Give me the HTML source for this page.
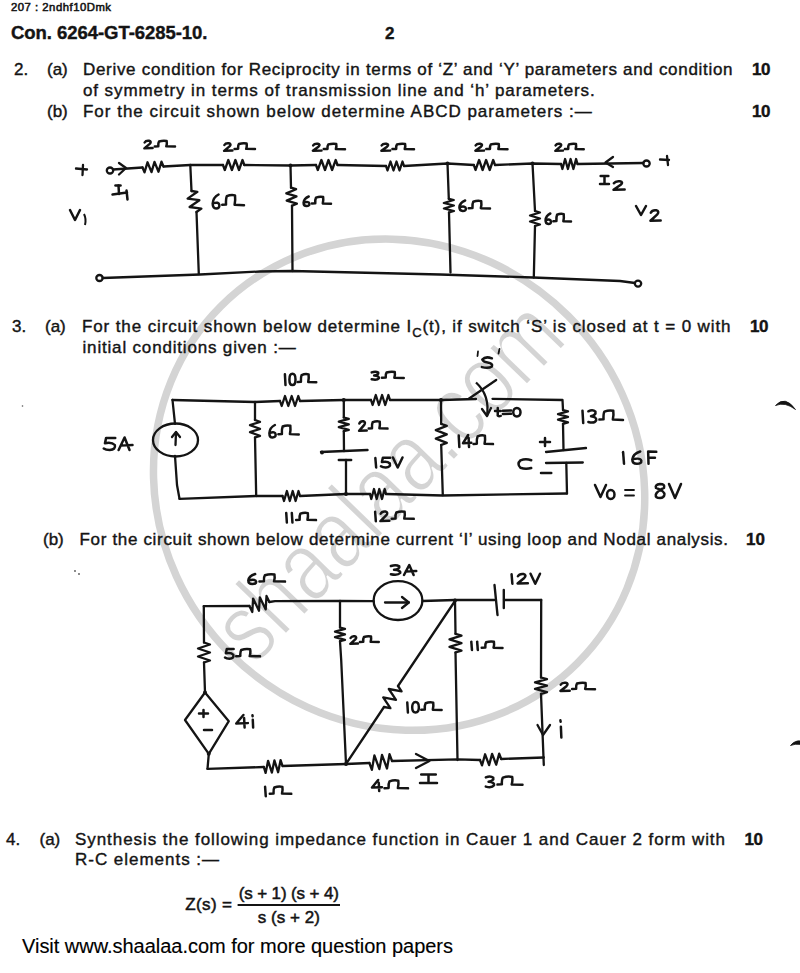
<!DOCTYPE html><html><head><meta charset="utf-8"><style>html,body{margin:0;padding:0;background:#fff;width:800px;height:973px;overflow:hidden;position:relative}</style></head><body><svg width="800" height="973" viewBox="0 0 800 973" style="position:absolute;left:0;top:0">
<ellipse cx="399.1" cy="484.7" rx="252.2" ry="238.9" transform="rotate(45 399.1 484.7)" fill="none" stroke="#d4d4d4" stroke-width="7.5"/>
<text x="0" y="0" font-family="Liberation Sans" font-size="100" fill="#d4d4d4" stroke="#fff" stroke-width="2.2" text-anchor="middle" transform="translate(412,504) rotate(-46) scale(0.8,1)">shaalaa.com</text>
<text x="11" y="11.4" font-family="Liberation Sans" font-size="11.3" font-weight="400" fill="#141414" stroke="#141414" stroke-width="0.55" textLength="100.0" lengthAdjust="spacing" >207 : 2ndhf10Dmk</text>
<text x="11" y="39" font-family="Liberation Sans" font-size="18.5" font-weight="700" fill="#141414" stroke="#141414" stroke-width="0.4" textLength="196.5" lengthAdjust="spacing" >Con. 6264-GT-6285-10.</text>
<text x="385" y="38.5" font-family="Liberation Sans" font-size="17" font-weight="700" fill="#141414" stroke="#141414" stroke-width="0.4" >2</text>
<text x="14" y="75" font-family="Liberation Sans" font-size="17" font-weight="400" fill="#141414" stroke="#141414" stroke-width="0.4" >2.</text>
<text x="47" y="75" font-family="Liberation Sans" font-size="17" font-weight="400" fill="#141414" stroke="#141414" stroke-width="0.4" >(a)</text>
<text x="83" y="75" font-family="Liberation Sans" font-size="17" font-weight="400" fill="#141414" stroke="#141414" stroke-width="0.4" textLength="649.5" lengthAdjust="spacing" >Derive condition for Reciprocity in terms of ‘Z’ and ‘Y’ parameters and condition</text>
<text x="752" y="75" font-family="Liberation Sans" font-size="17" font-weight="700" fill="#141414" stroke="#141414" stroke-width="0.4" textLength="18.5" lengthAdjust="spacing" >10</text>
<text x="83" y="95.5" font-family="Liberation Sans" font-size="17" font-weight="400" fill="#141414" stroke="#141414" stroke-width="0.4" textLength="511.7" lengthAdjust="spacing" >of symmetry in terms of transmission line and ‘h’ parameters.</text>
<text x="47" y="116.5" font-family="Liberation Sans" font-size="17" font-weight="400" fill="#141414" stroke="#141414" stroke-width="0.4" >(b)</text>
<text x="83" y="116.5" font-family="Liberation Sans" font-size="17" font-weight="400" fill="#141414" stroke="#141414" stroke-width="0.4" textLength="508.7" lengthAdjust="spacing" >For the circuit shown below determine ABCD parameters :—</text>
<text x="752" y="116.5" font-family="Liberation Sans" font-size="17" font-weight="700" fill="#141414" stroke="#141414" stroke-width="0.4" textLength="18.5" lengthAdjust="spacing" >10</text>
<text x="12" y="332" font-family="Liberation Sans" font-size="17" font-weight="400" fill="#141414" stroke="#141414" stroke-width="0.4" >3.</text>
<text x="45" y="332" font-family="Liberation Sans" font-size="17" font-weight="400" fill="#141414" stroke="#141414" stroke-width="0.4" >(a)</text>
<text x="82" y="332" font-family="Liberation Sans" font-size="17" fill="#141414" stroke="#141414" stroke-width="0.4" textLength="648.5" lengthAdjust="spacing">For the circuit shown below determine I<tspan font-size="13" dy="5">C</tspan><tspan dy="-5">(t), if switch ‘S’ is closed at t = 0 with</tspan></text>
<text x="750" y="331.5" font-family="Liberation Sans" font-size="17" font-weight="700" fill="#141414" stroke="#141414" stroke-width="0.4" textLength="18.5" lengthAdjust="spacing" >10</text>
<text x="82.5" y="353.4" font-family="Liberation Sans" font-size="17" font-weight="400" fill="#141414" stroke="#141414" stroke-width="0.4" textLength="213.2" lengthAdjust="spacing" >initial conditions given :—</text>
<text x="43" y="544.7" font-family="Liberation Sans" font-size="17" font-weight="400" fill="#141414" stroke="#141414" stroke-width="0.4" >(b)</text>
<text x="79.5" y="544.7" font-family="Liberation Sans" font-size="17" font-weight="400" fill="#141414" stroke="#141414" stroke-width="0.4" textLength="648.5" lengthAdjust="spacing" >For the circuit shown below determine current ‘I’ using loop and Nodal analysis.</text>
<text x="746" y="544.7" font-family="Liberation Sans" font-size="17" font-weight="700" fill="#141414" stroke="#141414" stroke-width="0.4" textLength="19.0" lengthAdjust="spacing" >10</text>
<text x="6" y="845" font-family="Liberation Sans" font-size="17" font-weight="400" fill="#141414" stroke="#141414" stroke-width="0.4" >4.</text>
<text x="39.5" y="845" font-family="Liberation Sans" font-size="17" font-weight="400" fill="#141414" stroke="#141414" stroke-width="0.4" >(a)</text>
<text x="75" y="845" font-family="Liberation Sans" font-size="17" font-weight="400" fill="#141414" stroke="#141414" stroke-width="0.4" textLength="650.0" lengthAdjust="spacing" >Synthesis the following impedance function in Cauer 1 and Cauer 2 form with</text>
<text x="744.5" y="845" font-family="Liberation Sans" font-size="17" font-weight="700" fill="#141414" stroke="#141414" stroke-width="0.4" textLength="18.5" lengthAdjust="spacing" >10</text>
<text x="75" y="864.5" font-family="Liberation Sans" font-size="17" font-weight="400" fill="#141414" stroke="#141414" stroke-width="0.4" textLength="144.0" lengthAdjust="spacing" >R-C elements :—</text>
<text x="185.3" y="910" font-family="Liberation Sans" font-size="17" font-weight="400" fill="#141414" stroke="#141414" stroke-width="0.5" textLength="46.7" lengthAdjust="spacing" >Z(s) =</text>
<text x="238.7" y="899" font-family="Liberation Sans" font-size="17" font-weight="400" fill="#141414" stroke="#141414" stroke-width="0.5" textLength="100.3" lengthAdjust="spacing" >(s + 1) (s + 4)</text>
<line x1="237.6" y1="905" x2="340" y2="905" stroke="#141414" stroke-width="1.8"/>
<text x="257.8" y="923" font-family="Liberation Sans" font-size="17" font-weight="400" fill="#141414" stroke="#141414" stroke-width="0.5" textLength="62.0" lengthAdjust="spacing" >s (s + 2)</text>
<text x="22" y="952.8" font-family="Liberation Sans" font-size="20" font-weight="400" fill="#000" stroke="#000" stroke-width="0.15" textLength="431.0" lengthAdjust="spacing" >Visit www.shaalaa.com for more question papers</text>
<ellipse cx="110" cy="170.5" rx="3.2" ry="3" fill="none" stroke="#141414" stroke-width="2.3"/>
<path d="M113.0,169.5 L142.5,167.5" fill="none" stroke="#141414" stroke-width="2.3" stroke-linecap="round" stroke-linejoin="round"/>
<path d="M119.0,163.0 L126.0,168.0 L119.0,174.5" fill="none" stroke="#141414" stroke-width="2.3" stroke-linecap="round" stroke-linejoin="round"/>
<path d="M142.5,167.5 L144.5,172.4 L147.5,162.3 L151.5,172.1 L154.5,161.9 L158.5,171.7 L161.5,161.6 L163.5,166.5" fill="none" stroke="#141414" stroke-width="2.3" stroke-linecap="round" stroke-linejoin="round"/>
<path d="M163.5,166.5 L190.3,165.0 L223.0,165.0" fill="none" stroke="#141414" stroke-width="2.3" stroke-linecap="round" stroke-linejoin="round"/>
<path d="M223.0,165.0 L224.8,170.0 L228.3,160.0 L231.9,170.0 L235.4,160.0 L239.0,170.0 L242.5,160.0 L244.3,165.0" fill="none" stroke="#141414" stroke-width="2.3" stroke-linecap="round" stroke-linejoin="round"/>
<path d="M244.3,165.0 L290.5,165.5 L316.0,165.0" fill="none" stroke="#141414" stroke-width="2.3" stroke-linecap="round" stroke-linejoin="round"/>
<path d="M316.0,165.0 L317.8,170.0 L321.4,160.0 L325.0,170.0 L328.5,160.0 L332.1,170.0 L335.7,160.0 L337.5,165.0" fill="none" stroke="#141414" stroke-width="2.3" stroke-linecap="round" stroke-linejoin="round"/>
<path d="M337.5,165.0 L386.0,166.0" fill="none" stroke="#141414" stroke-width="2.3" stroke-linecap="round" stroke-linejoin="round"/>
<path d="M386.0,166.0 L387.5,170.5 L390.5,161.5 L393.5,170.5 L396.5,161.5 L399.5,170.5 L402.5,161.5 L404.0,166.0" fill="none" stroke="#141414" stroke-width="2.3" stroke-linecap="round" stroke-linejoin="round"/>
<path d="M404.0,166.0 L447.5,163.5 L473.8,165.0" fill="none" stroke="#141414" stroke-width="2.3" stroke-linecap="round" stroke-linejoin="round"/>
<path d="M473.8,165.0 L475.5,170.0 L479.1,160.0 L482.6,170.0 L486.1,160.0 L489.7,170.0 L493.2,160.0 L495.0,165.0" fill="none" stroke="#141414" stroke-width="2.3" stroke-linecap="round" stroke-linejoin="round"/>
<path d="M495.0,165.0 L532.5,163.5 L561.0,164.0" fill="none" stroke="#141414" stroke-width="2.3" stroke-linecap="round" stroke-linejoin="round"/>
<path d="M561.0,164.0 L562.4,169.0 L565.1,159.0 L567.9,169.0 L570.6,159.0 L573.4,169.0 L576.1,159.0 L577.5,164.0" fill="none" stroke="#141414" stroke-width="2.3" stroke-linecap="round" stroke-linejoin="round"/>
<path d="M577.5,164.0 L643.5,163.0" fill="none" stroke="#141414" stroke-width="2.3" stroke-linecap="round" stroke-linejoin="round"/>
<path d="M613.0,157.0 L605.5,162.5 L613.0,167.0" fill="none" stroke="#141414" stroke-width="2.3" stroke-linecap="round" stroke-linejoin="round"/>
<ellipse cx="646.5" cy="163.5" rx="3.2" ry="3" fill="none" stroke="#141414" stroke-width="2.3"/>
<path d="M190.3,165.0 L191.5,191.0" fill="none" stroke="#141414" stroke-width="2.3" stroke-linecap="round" stroke-linejoin="round"/>
<path d="M191.5,191.0 L197.4,191.8 L187.6,198.6 L199.4,200.2 L189.6,207.0 L201.4,208.6 L196.5,212.0" fill="none" stroke="#141414" stroke-width="2.3" stroke-linecap="round" stroke-linejoin="round"/>
<path d="M196.5,212.0 L198.8,274.0" fill="none" stroke="#141414" stroke-width="2.3" stroke-linecap="round" stroke-linejoin="round"/>
<path d="M290.5,165.5 L291.0,187.7" fill="none" stroke="#141414" stroke-width="2.3" stroke-linecap="round" stroke-linejoin="round"/>
<path d="M291.0,187.7 L296.1,189.2 L286.3,193.4 L296.5,196.4 L286.7,200.6 L296.9,203.6 L292.0,205.7" fill="none" stroke="#141414" stroke-width="2.3" stroke-linecap="round" stroke-linejoin="round"/>
<path d="M292.0,205.7 L292.5,271.0" fill="none" stroke="#141414" stroke-width="2.3" stroke-linecap="round" stroke-linejoin="round"/>
<path d="M447.5,163.5 L448.8,198.8" fill="none" stroke="#141414" stroke-width="2.3" stroke-linecap="round" stroke-linejoin="round"/>
<path d="M448.8,198.8 L453.8,200.0 L443.8,203.0 L453.9,205.5 L443.9,208.5 L454.0,211.0 L449.0,212.5" fill="none" stroke="#141414" stroke-width="2.3" stroke-linecap="round" stroke-linejoin="round"/>
<path d="M449.0,212.5 L450.5,272.5" fill="none" stroke="#141414" stroke-width="2.3" stroke-linecap="round" stroke-linejoin="round"/>
<path d="M532.5,163.5 L535.0,211.0" fill="none" stroke="#141414" stroke-width="2.3" stroke-linecap="round" stroke-linejoin="round"/>
<path d="M535.0,211.0 L540.0,212.5 L530.0,215.5 L540.0,218.5 L530.0,221.5 L540.0,224.5 L535.0,226.0" fill="none" stroke="#141414" stroke-width="2.3" stroke-linecap="round" stroke-linejoin="round"/>
<path d="M535.0,226.0 L533.8,277.5" fill="none" stroke="#141414" stroke-width="2.3" stroke-linecap="round" stroke-linejoin="round"/>
<ellipse cx="99.5" cy="278" rx="3.2" ry="3" fill="none" stroke="#141414" stroke-width="2.3"/>
<path d="M102.5,278.0 L200.0,274.5 L260.0,271.5 L292.0,271.0 L440.0,274.5 L533.0,277.5 L620.0,281.0 L635.0,283.0" fill="none" stroke="#141414" stroke-width="2.3" stroke-linecap="round" stroke-linejoin="round"/>
<ellipse cx="638" cy="283.6" rx="3.2" ry="3" fill="none" stroke="#141414" stroke-width="2.3"/>
<path d="M76.0,168.5 L87.0,169.5" fill="none" stroke="#141414" stroke-width="2.3" stroke-linecap="round" stroke-linejoin="round"/>
<path d="M83.0,165.0 L82.5,175.0" fill="none" stroke="#141414" stroke-width="2.3" stroke-linecap="round" stroke-linejoin="round"/>
<path d="M660.0,159.5 L669.0,160.0" fill="none" stroke="#141414" stroke-width="2.3" stroke-linecap="round" stroke-linejoin="round"/>
<path d="M667.0,156.0 L668.0,165.0" fill="none" stroke="#141414" stroke-width="2.3" stroke-linecap="round" stroke-linejoin="round"/>
<g fill="none" stroke="#141414" stroke-width="2.5" stroke-linecap="round" stroke-linejoin="round"><path transform="translate(144.00,140.50) scale(1.2653,0.8000)" d="M0.5,2.5 Q1.5,-0.3 4,0.3 Q6.3,1.2 4.5,4.2 L0.3,9.8 L6.8,9.5" vector-effect="non-scaling-stroke" /><path transform="translate(154.76,140.50) scale(1.2653,0.8000)" d="M0,7.4 L2.8,7.2 Q2.6,3 3.4,1.2 Q6.5,-0.2 9.4,0.6 Q9.8,4 9.1,7.3 L16,7.6" vector-effect="non-scaling-stroke" /></g>
<g fill="none" stroke="#141414" stroke-width="2.5" stroke-linecap="round" stroke-linejoin="round"><path transform="translate(223.75,143.00) scale(1.2755,0.8000)" d="M0.5,2.5 Q1.5,-0.3 4,0.3 Q6.3,1.2 4.5,4.2 L0.3,9.8 L6.8,9.5" vector-effect="non-scaling-stroke" /><path transform="translate(234.59,143.00) scale(1.2755,0.8000)" d="M0,7.4 L2.8,7.2 Q2.6,3 3.4,1.2 Q6.5,-0.2 9.4,0.6 Q9.8,4 9.1,7.3 L16,7.6" vector-effect="non-scaling-stroke" /></g>
<g fill="none" stroke="#141414" stroke-width="2.5" stroke-linecap="round" stroke-linejoin="round"><path transform="translate(312.50,143.50) scale(1.3265,0.7500)" d="M0.5,2.5 Q1.5,-0.3 4,0.3 Q6.3,1.2 4.5,4.2 L0.3,9.8 L6.8,9.5" vector-effect="non-scaling-stroke" /><path transform="translate(323.78,143.50) scale(1.3265,0.7500)" d="M0,7.4 L2.8,7.2 Q2.6,3 3.4,1.2 Q6.5,-0.2 9.4,0.6 Q9.8,4 9.1,7.3 L16,7.6" vector-effect="non-scaling-stroke" /></g>
<g fill="none" stroke="#141414" stroke-width="2.5" stroke-linecap="round" stroke-linejoin="round"><path transform="translate(381.00,143.50) scale(1.3469,0.7500)" d="M0.5,2.5 Q1.5,-0.3 4,0.3 Q6.3,1.2 4.5,4.2 L0.3,9.8 L6.8,9.5" vector-effect="non-scaling-stroke" /><path transform="translate(392.45,143.50) scale(1.3469,0.7500)" d="M0,7.4 L2.8,7.2 Q2.6,3 3.4,1.2 Q6.5,-0.2 9.4,0.6 Q9.8,4 9.1,7.3 L16,7.6" vector-effect="non-scaling-stroke" /></g>
<g fill="none" stroke="#141414" stroke-width="2.5" stroke-linecap="round" stroke-linejoin="round"><path transform="translate(475.00,143.50) scale(1.3265,0.7500)" d="M0.5,2.5 Q1.5,-0.3 4,0.3 Q6.3,1.2 4.5,4.2 L0.3,9.8 L6.8,9.5" vector-effect="non-scaling-stroke" /><path transform="translate(486.28,143.50) scale(1.3265,0.7500)" d="M0,7.4 L2.8,7.2 Q2.6,3 3.4,1.2 Q6.5,-0.2 9.4,0.6 Q9.8,4 9.1,7.3 L16,7.6" vector-effect="non-scaling-stroke" /></g>
<g fill="none" stroke="#141414" stroke-width="2.5" stroke-linecap="round" stroke-linejoin="round"><path transform="translate(555.00,143.50) scale(1.1735,0.7500)" d="M0.5,2.5 Q1.5,-0.3 4,0.3 Q6.3,1.2 4.5,4.2 L0.3,9.8 L6.8,9.5" vector-effect="non-scaling-stroke" /><path transform="translate(564.97,143.50) scale(1.1735,0.7500)" d="M0,7.4 L2.8,7.2 Q2.6,3 3.4,1.2 Q6.5,-0.2 9.4,0.6 Q9.8,4 9.1,7.3 L16,7.6" vector-effect="non-scaling-stroke" /></g>
<g fill="none" stroke="#141414" stroke-width="2.5" stroke-linecap="round" stroke-linejoin="round"><path transform="translate(212.00,194.50) scale(1.3617,1.4000)" d="M4.8,0 Q0.8,2 0.5,6.5 Q0.5,10 3,10 Q5.6,10 5.4,7.5 Q5,5 1,6.2" vector-effect="non-scaling-stroke" /><path transform="translate(222.21,194.50) scale(1.3617,1.4000)" d="M0,7.4 L2.8,7.2 Q2.6,3 3.4,1.2 Q6.5,-0.2 9.4,0.6 Q9.8,4 9.1,7.3 L16,7.6" vector-effect="non-scaling-stroke" /></g>
<g fill="none" stroke="#141414" stroke-width="2.5" stroke-linecap="round" stroke-linejoin="round"><path transform="translate(303.00,196.50) scale(1.1915,0.9500)" d="M4.8,0 Q0.8,2 0.5,6.5 Q0.5,10 3,10 Q5.6,10 5.4,7.5 Q5,5 1,6.2" vector-effect="non-scaling-stroke" /><path transform="translate(311.94,196.50) scale(1.1915,0.9500)" d="M0,7.4 L2.8,7.2 Q2.6,3 3.4,1.2 Q6.5,-0.2 9.4,0.6 Q9.8,4 9.1,7.3 L16,7.6" vector-effect="non-scaling-stroke" /></g>
<g fill="none" stroke="#141414" stroke-width="2.5" stroke-linecap="round" stroke-linejoin="round"><path transform="translate(458.75,200.50) scale(1.3298,1.0500)" d="M4.8,0 Q0.8,2 0.5,6.5 Q0.5,10 3,10 Q5.6,10 5.4,7.5 Q5,5 1,6.2" vector-effect="non-scaling-stroke" /><path transform="translate(468.72,200.50) scale(1.3298,1.0500)" d="M0,7.4 L2.8,7.2 Q2.6,3 3.4,1.2 Q6.5,-0.2 9.4,0.6 Q9.8,4 9.1,7.3 L16,7.6" vector-effect="non-scaling-stroke" /></g>
<g fill="none" stroke="#141414" stroke-width="2.5" stroke-linecap="round" stroke-linejoin="round"><path transform="translate(545.00,213.50) scale(1.1064,1.0500)" d="M4.8,0 Q0.8,2 0.5,6.5 Q0.5,10 3,10 Q5.6,10 5.4,7.5 Q5,5 1,6.2" vector-effect="non-scaling-stroke" /><path transform="translate(553.30,213.50) scale(1.1064,1.0500)" d="M0,7.4 L2.8,7.2 Q2.6,3 3.4,1.2 Q6.5,-0.2 9.4,0.6 Q9.8,4 9.1,7.3 L16,7.6" vector-effect="non-scaling-stroke" /></g>
<path d="M115.5,185.5 L120.5,185.5" fill="none" stroke="#141414" stroke-width="2.6" stroke-linecap="round" stroke-linejoin="round"/>
<path d="M118.5,185.5 L119.0,194.0" fill="none" stroke="#141414" stroke-width="2.5" stroke-linecap="round" stroke-linejoin="round"/>
<path d="M112.5,194.5 L127.0,192.5" fill="none" stroke="#141414" stroke-width="2.5" stroke-linecap="round" stroke-linejoin="round"/>
<path d="M126.5,190.5 L127.5,199.5" fill="none" stroke="#141414" stroke-width="2.5" stroke-linecap="round" stroke-linejoin="round"/>
<g fill="none" stroke="#141414" stroke-width="2.5" stroke-linecap="round" stroke-linejoin="round"><path transform="translate(70.00,210.00) scale(1.6667,1.0000)" d="M0,0 L3,10 L6,0" vector-effect="non-scaling-stroke" /></g>
<path d="M84,214 Q86.5,219 85,225" fill="none" stroke="#141414" stroke-width="2"/>
<g fill="none" stroke="#141414" stroke-width="2.5" stroke-linecap="round" stroke-linejoin="round"><path transform="translate(600.00,176.00) scale(1.2857,0.8000)" d="M0.5,0 L6.5,0 M3.5,0 L3.5,10 M0,10 L7,10" vector-effect="non-scaling-stroke" /></g>
<g fill="none" stroke="#141414" stroke-width="2.5" stroke-linecap="round" stroke-linejoin="round"><path transform="translate(613.00,181.00) scale(1.7143,0.9000)" d="M0.5,2.5 Q1.5,-0.3 4,0.3 Q6.3,1.2 4.5,4.2 L0.3,9.8 L6.8,9.5" vector-effect="non-scaling-stroke" /></g>
<g fill="none" stroke="#141414" stroke-width="2.5" stroke-linecap="round" stroke-linejoin="round"><path transform="translate(636.00,206.00) scale(1.6667,0.9000)" d="M0,0 L3,10 L6,0" vector-effect="non-scaling-stroke" /></g>
<g fill="none" stroke="#141414" stroke-width="2.5" stroke-linecap="round" stroke-linejoin="round"><path transform="translate(650.00,210.00) scale(1.5714,1.1000)" d="M0.5,2.5 Q1.5,-0.3 4,0.3 Q6.3,1.2 4.5,4.2 L0.3,9.8 L6.8,9.5" vector-effect="non-scaling-stroke" /></g>
<path d="M172.5,400.0 L255.0,402.0 L280.0,401.0" fill="none" stroke="#141414" stroke-width="2.3" stroke-linecap="round" stroke-linejoin="round"/>
<path d="M280.0,401.0 L281.7,406.0 L285.0,396.0 L288.3,406.0 L291.7,396.0 L295.0,406.0 L298.3,396.0 L300.0,401.0" fill="none" stroke="#141414" stroke-width="2.3" stroke-linecap="round" stroke-linejoin="round"/>
<path d="M300.0,401.0 L343.8,400.0 L371.0,400.0" fill="none" stroke="#141414" stroke-width="2.3" stroke-linecap="round" stroke-linejoin="round"/>
<path d="M371.0,400.0 L372.6,405.0 L375.8,395.0 L378.9,405.0 L382.1,395.0 L385.2,405.0 L388.4,395.0 L390.0,400.0" fill="none" stroke="#141414" stroke-width="2.3" stroke-linecap="round" stroke-linejoin="round"/>
<path d="M390.0,400.0 L441.0,400.0 L476.0,399.0" fill="none" stroke="#141414" stroke-width="2.3" stroke-linecap="round" stroke-linejoin="round"/>
<path d="M468.8,398.8 L496.2,380.0" fill="none" stroke="#141414" stroke-width="2.3" stroke-linecap="round" stroke-linejoin="round"/>
<path d="M476,382.5 Q490,395 487,416" fill="none" stroke="#141414" stroke-width="2.3"/>
<path d="M482.0,409.0 L487.0,416.0 L491.0,408.0" fill="none" stroke="#141414" stroke-width="2.3" stroke-linecap="round" stroke-linejoin="round"/>
<path d="M492.5,398.8 L562.5,400.0 L563.0,410.0" fill="none" stroke="#141414" stroke-width="2.3" stroke-linecap="round" stroke-linejoin="round"/>
<path d="M563.0,410.0 L568.0,411.4 L558.0,414.1 L568.0,416.9 L558.0,419.6 L568.0,422.4 L563.0,423.8" fill="none" stroke="#141414" stroke-width="2.3" stroke-linecap="round" stroke-linejoin="round"/>
<path d="M563.0,423.8 L563.5,450.0" fill="none" stroke="#141414" stroke-width="2.3" stroke-linecap="round" stroke-linejoin="round"/>
<path d="M546.0,452.0 L586.0,448.0" fill="none" stroke="#141414" stroke-width="2.3" stroke-linecap="round" stroke-linejoin="round"/>
<path d="M546.0,463.0 L582.8,462.5" fill="none" stroke="#141414" stroke-width="2.3" stroke-linecap="round" stroke-linejoin="round"/>
<path d="M566.3,463.0 L567.0,493.5" fill="none" stroke="#141414" stroke-width="2.3" stroke-linecap="round" stroke-linejoin="round"/>
<path d="M179.5,498.8 L256.0,496.0 L282.5,496.0" fill="none" stroke="#141414" stroke-width="2.3" stroke-linecap="round" stroke-linejoin="round"/>
<path d="M282.5,496.0 L284.0,501.0 L286.9,491.0 L289.8,501.0 L292.7,491.0 L295.6,501.0 L298.5,491.0 L300.0,496.0" fill="none" stroke="#141414" stroke-width="2.3" stroke-linecap="round" stroke-linejoin="round"/>
<path d="M300.0,496.0 L346.0,494.0 L370.0,494.0" fill="none" stroke="#141414" stroke-width="2.3" stroke-linecap="round" stroke-linejoin="round"/>
<path d="M370.0,494.0 L371.3,499.0 L374.0,489.0 L376.7,499.0 L379.3,489.0 L382.0,499.0 L384.7,489.0 L386.0,494.0" fill="none" stroke="#141414" stroke-width="2.3" stroke-linecap="round" stroke-linejoin="round"/>
<path d="M386.0,494.0 L442.5,495.5 L567.0,493.5" fill="none" stroke="#141414" stroke-width="2.3" stroke-linecap="round" stroke-linejoin="round"/>
<path d="M172.5,400.0 L175.0,423.8" fill="none" stroke="#141414" stroke-width="2.3" stroke-linecap="round" stroke-linejoin="round"/>
<ellipse cx="175.5" cy="440" rx="22.5" ry="16.5" fill="none" stroke="#141414" stroke-width="2.3"/>
<path d="M175.0,456.0 L177.0,485.0 L179.5,498.8" fill="none" stroke="#141414" stroke-width="2.3" stroke-linecap="round" stroke-linejoin="round"/>
<path d="M175.5,445.0 L176.0,432.5" fill="none" stroke="#141414" stroke-width="2.3" stroke-linecap="round" stroke-linejoin="round"/>
<path d="M172.0,437.0 L176.0,432.0 L180.0,437.0" fill="none" stroke="#141414" stroke-width="2.3" stroke-linecap="round" stroke-linejoin="round"/>
<path d="M255.0,402.0 L255.0,420.0" fill="none" stroke="#141414" stroke-width="2.3" stroke-linecap="round" stroke-linejoin="round"/>
<path d="M255.0,420.0 L260.0,421.8 L250.0,425.2 L260.0,428.8 L250.0,432.2 L260.0,435.8 L255.0,437.5" fill="none" stroke="#141414" stroke-width="2.3" stroke-linecap="round" stroke-linejoin="round"/>
<path d="M255.0,437.5 L256.2,496.0" fill="none" stroke="#141414" stroke-width="2.3" stroke-linecap="round" stroke-linejoin="round"/>
<path d="M343.8,400.0 L343.8,417.5" fill="none" stroke="#141414" stroke-width="2.3" stroke-linecap="round" stroke-linejoin="round"/>
<path d="M343.8,417.5 L348.8,418.9 L338.8,421.6 L348.8,424.4 L338.8,427.1 L348.8,429.9 L343.8,431.2" fill="none" stroke="#141414" stroke-width="2.3" stroke-linecap="round" stroke-linejoin="round"/>
<path d="M343.8,431.2 L344.0,451.2" fill="none" stroke="#141414" stroke-width="2.3" stroke-linecap="round" stroke-linejoin="round"/>
<path d="M321.0,452.0 L367.5,450.0" fill="none" stroke="#141414" stroke-width="2.4" stroke-linecap="round" stroke-linejoin="round"/>
<path d="M338.8,460.0 L351.2,460.0" fill="none" stroke="#141414" stroke-width="2.4" stroke-linecap="round" stroke-linejoin="round"/>
<path d="M346.0,460.0 L346.0,494.0" fill="none" stroke="#141414" stroke-width="2.3" stroke-linecap="round" stroke-linejoin="round"/>
<path d="M441.0,400.0 L441.2,423.8" fill="none" stroke="#141414" stroke-width="2.3" stroke-linecap="round" stroke-linejoin="round"/>
<path d="M441.2,423.8 L446.8,425.9 L435.8,430.1 L446.8,434.4 L435.8,438.6 L446.8,442.9 L441.2,445.0" fill="none" stroke="#141414" stroke-width="2.3" stroke-linecap="round" stroke-linejoin="round"/>
<path d="M441.2,445.0 L442.8,495.2" fill="none" stroke="#141414" stroke-width="2.3" stroke-linecap="round" stroke-linejoin="round"/>
<g fill="none" stroke="#141414" stroke-width="2.5" stroke-linecap="round" stroke-linejoin="round"><path transform="translate(103.75,437.50) scale(1.9828,1.2500)" d="M5.8,0.3 L1.2,0.3 L0.6,4.6 Q4,3.4 5.6,6 Q6.2,9.6 3,10 Q1,10 0,8.8" vector-effect="non-scaling-stroke" /><path transform="translate(118.62,437.50) scale(1.9828,1.2500)" d="M0,10 L3,0 L5.5,10 M1,6.5 L7,6" vector-effect="non-scaling-stroke" /></g>
<g fill="none" stroke="#141414" stroke-width="2.5" stroke-linecap="round" stroke-linejoin="round"><path transform="translate(268.75,425.00) scale(1.2766,1.2500)" d="M4.8,0 Q0.8,2 0.5,6.5 Q0.5,10 3,10 Q5.6,10 5.4,7.5 Q5,5 1,6.2" vector-effect="non-scaling-stroke" /><path transform="translate(278.32,425.00) scale(1.2766,1.2500)" d="M0,7.4 L2.8,7.2 Q2.6,3 3.4,1.2 Q6.5,-0.2 9.4,0.6 Q9.8,4 9.1,7.3 L16,7.6" vector-effect="non-scaling-stroke" /></g>
<g fill="none" stroke="#141414" stroke-width="2.5" stroke-linecap="round" stroke-linejoin="round"><path transform="translate(283.75,373.75) scale(1.1607,1.1250)" d="M1,0.5 L1.5,10" vector-effect="non-scaling-stroke" /><path transform="translate(288.97,373.75) scale(1.1607,1.1250)" d="M3,0 C-0.5,0 -0.5,10 3,10 C6.5,10 6.5,0 3,0 Z" vector-effect="non-scaling-stroke" /><path transform="translate(297.68,373.75) scale(1.1607,1.1250)" d="M0,7.4 L2.8,7.2 Q2.6,3 3.4,1.2 Q6.5,-0.2 9.4,0.6 Q9.8,4 9.1,7.3 L16,7.6" vector-effect="non-scaling-stroke" /></g>
<g fill="none" stroke="#141414" stroke-width="2.5" stroke-linecap="round" stroke-linejoin="round"><path transform="translate(358.75,421.00) scale(1.1735,1.0000)" d="M0.5,2.5 Q1.5,-0.3 4,0.3 Q6.3,1.2 4.5,4.2 L0.3,9.8 L6.8,9.5" vector-effect="non-scaling-stroke" /><path transform="translate(368.72,421.00) scale(1.1735,1.0000)" d="M0,7.4 L2.8,7.2 Q2.6,3 3.4,1.2 Q6.5,-0.2 9.4,0.6 Q9.8,4 9.1,7.3 L16,7.6" vector-effect="non-scaling-stroke" /></g>
<g fill="none" stroke="#141414" stroke-width="2.5" stroke-linecap="round" stroke-linejoin="round"><path transform="translate(371.00,371.50) scale(1.3646,0.8500)" d="M0.5,1 Q3.5,-0.8 5.3,1.3 Q5.8,3.8 2.3,4.8 Q6.3,5.3 5.8,8 Q4.5,10.6 0.5,9.2" vector-effect="non-scaling-stroke" /><path transform="translate(381.92,371.50) scale(1.3646,0.8500)" d="M0,7.4 L2.8,7.2 Q2.6,3 3.4,1.2 Q6.5,-0.2 9.4,0.6 Q9.8,4 9.1,7.3 L16,7.6" vector-effect="non-scaling-stroke" /></g>
<g fill="none" stroke="#141414" stroke-width="2.5" stroke-linecap="round" stroke-linejoin="round"><path transform="translate(373.75,457.50) scale(1.5972,1.0000)" d="M1,0.5 L1.5,10" vector-effect="non-scaling-stroke" /><path transform="translate(380.94,457.50) scale(1.5972,1.0000)" d="M5.8,0.3 L1.2,0.3 L0.6,4.6 Q4,3.4 5.6,6 Q6.2,9.6 3,10 Q1,10 0,8.8" vector-effect="non-scaling-stroke" /><path transform="translate(392.92,457.50) scale(1.5972,1.0000)" d="M0,0 L3,10 L6,0" vector-effect="non-scaling-stroke" /></g>
<g fill="none" stroke="#141414" stroke-width="2.5" stroke-linecap="round" stroke-linejoin="round"><path transform="translate(285.00,512.50) scale(1.2400,1.0000)" d="M1,0.5 L1.5,10" vector-effect="non-scaling-stroke" /><path transform="translate(290.58,512.50) scale(1.2400,1.0000)" d="M1,0.5 L1.5,10" vector-effect="non-scaling-stroke" /><path transform="translate(296.16,512.50) scale(1.2400,1.0000)" d="M0,7.4 L2.8,7.2 Q2.6,3 3.4,1.2 Q6.5,-0.2 9.4,0.6 Q9.8,4 9.1,7.3 L16,7.6" vector-effect="non-scaling-stroke" /></g>
<g fill="none" stroke="#141414" stroke-width="2.5" stroke-linecap="round" stroke-linejoin="round"><path transform="translate(373.75,511.25) scale(1.3793,1.0000)" d="M1,0.5 L1.5,10" vector-effect="non-scaling-stroke" /><path transform="translate(379.96,511.25) scale(1.3793,1.0000)" d="M0.5,2.5 Q1.5,-0.3 4,0.3 Q6.3,1.2 4.5,4.2 L0.3,9.8 L6.8,9.5" vector-effect="non-scaling-stroke" /><path transform="translate(391.68,511.25) scale(1.3793,1.0000)" d="M0,7.4 L2.8,7.2 Q2.6,3 3.4,1.2 Q6.5,-0.2 9.4,0.6 Q9.8,4 9.1,7.3 L16,7.6" vector-effect="non-scaling-stroke" /></g>
<g fill="none" stroke="#141414" stroke-width="2.5" stroke-linecap="round" stroke-linejoin="round"><path transform="translate(481.00,357.00) scale(2.1818,1.1000)" d="M5,1.2 Q2,-1 0.6,2.4 Q1,4.5 3,5 Q5.6,6 5,8.6 Q3.5,10.6 0.4,9.2" vector-effect="non-scaling-stroke" /></g>
<path d="M478.0,351.5 L477.5,356.0" fill="none" stroke="#141414" stroke-width="1.8" stroke-linecap="round" stroke-linejoin="round"/>
<path d="M499.5,349.0 L498.5,353.5" fill="none" stroke="#141414" stroke-width="1.8" stroke-linecap="round" stroke-linejoin="round"/>
<g fill="none" stroke="#141414" stroke-width="2.5" stroke-linecap="round" stroke-linejoin="round"><path transform="translate(495.00,408.00) scale(1.3757,0.8500)" d="M2,0 L2,9 Q2.4,10 4.2,9.3 M0,3.5 L4.2,3.5" vector-effect="non-scaling-stroke" /><path transform="translate(502.84,408.00) scale(1.3757,0.8500)" d="M0,3.2 L6,3 M0,7 L6,6.8" vector-effect="non-scaling-stroke" /><path transform="translate(512.75,408.00) scale(1.3757,0.8500)" d="M3,0 C-0.5,0 -0.5,10 3,10 C6.5,10 6.5,0 3,0 Z" vector-effect="non-scaling-stroke" /></g>
<g fill="none" stroke="#141414" stroke-width="2.5" stroke-linecap="round" stroke-linejoin="round"><path transform="translate(581.00,410.00) scale(1.4737,1.3000)" d="M1,0.5 L1.5,10" vector-effect="non-scaling-stroke" /><path transform="translate(587.63,410.00) scale(1.4737,1.3000)" d="M0.5,1 Q3.5,-0.8 5.3,1.3 Q5.8,3.8 2.3,4.8 Q6.3,5.3 5.8,8 Q4.5,10.6 0.5,9.2" vector-effect="non-scaling-stroke" /><path transform="translate(599.42,410.00) scale(1.4737,1.3000)" d="M0,7.4 L2.8,7.2 Q2.6,3 3.4,1.2 Q6.5,-0.2 9.4,0.6 Q9.8,4 9.1,7.3 L16,7.6" vector-effect="non-scaling-stroke" /></g>
<g fill="none" stroke="#141414" stroke-width="2.5" stroke-linecap="round" stroke-linejoin="round"><path transform="translate(457.50,435.00) scale(1.2241,1.2000)" d="M1,0.5 L1.5,10" vector-effect="non-scaling-stroke" /><path transform="translate(463.01,435.00) scale(1.2241,1.2000)" d="M4.2,0 L0,6.8 L6.8,6.5 M4.6,2.5 L4.9,10" vector-effect="non-scaling-stroke" /><path transform="translate(473.41,435.00) scale(1.2241,1.2000)" d="M0,7.4 L2.8,7.2 Q2.6,3 3.4,1.2 Q6.5,-0.2 9.4,0.6 Q9.8,4 9.1,7.3 L16,7.6" vector-effect="non-scaling-stroke" /></g>
<g fill="none" stroke="#141414" stroke-width="2.5" stroke-linecap="round" stroke-linejoin="round"><path transform="translate(540.00,437.00) scale(1.2500,1.0000)" d="M0,5 L8,5 M4,1 L4,9" vector-effect="non-scaling-stroke" /></g>
<g fill="none" stroke="#141414" stroke-width="2.5" stroke-linecap="round" stroke-linejoin="round"><path transform="translate(518.00,459.00) scale(2.5455,1.0000)" d="M5.2,1.2 Q3,-0.6 1,1.3 Q-0.6,5 1,8.8 Q3,10.6 5.2,9" vector-effect="non-scaling-stroke" /></g>
<g fill="none" stroke="#141414" stroke-width="2.5" stroke-linecap="round" stroke-linejoin="round"><path transform="translate(541.00,470.00) scale(1.7083,0.6000)" d="M0,5 L6,5" vector-effect="non-scaling-stroke" /></g>
<g fill="none" stroke="#141414" stroke-width="2.5" stroke-linecap="round" stroke-linejoin="round"><path transform="translate(621.25,451.50) scale(1.8421,1.2250)" d="M1,0.5 L1.5,10" vector-effect="non-scaling-stroke" /><path transform="translate(631.38,451.50) scale(1.8421,1.2250)" d="M4.8,0 Q0.8,2 0.5,6.5 Q0.5,10 3,10 Q5.6,10 5.4,7.5 Q5,5 1,6.2" vector-effect="non-scaling-stroke" /><path transform="translate(647.04,451.50) scale(1.8421,1.2250)" d="M5,0.3 L0.6,0 L0.8,10 M0.7,5 L4.3,5" vector-effect="non-scaling-stroke" /></g>
<g fill="none" stroke="#141414" stroke-width="2.5" stroke-linecap="round" stroke-linejoin="round"><path transform="translate(595.00,485.00) scale(1.8333,1.2000)" d="M0,0 L3,10 L6,0" vector-effect="non-scaling-stroke" /></g>
<g fill="none" stroke="#141414" stroke-width="2.5" stroke-linecap="round" stroke-linejoin="round"><path transform="translate(606.50,490.00) scale(1.4167,0.9000)" d="M3,0 C-0.5,0 -0.5,10 3,10 C6.5,10 6.5,0 3,0 Z" vector-effect="non-scaling-stroke" /></g>
<path d="M625.0,490.0 L634.0,490.0" fill="none" stroke="#141414" stroke-width="1.8" stroke-linecap="round" stroke-linejoin="round"/>
<path d="M625.0,495.5 L634.0,495.5" fill="none" stroke="#141414" stroke-width="1.8" stroke-linecap="round" stroke-linejoin="round"/>
<g fill="none" stroke="#141414" stroke-width="2.5" stroke-linecap="round" stroke-linejoin="round"><path transform="translate(654.00,484.00) scale(2.0000,1.4000)" d="M3,0 Q0.3,0.5 1,2.8 Q5.3,5 5.2,7.6 Q5,10 3,10 Q0.6,10 0.9,7.6 Q1.4,5 5,2.7 Q5.6,0 3,0 Z" vector-effect="non-scaling-stroke" /><path transform="translate(669.00,484.00) scale(2.0000,1.4000)" d="M0,0 L3,10 L6,0" vector-effect="non-scaling-stroke" /></g>
<path d="M203.8,606.2 L249.4,606.0" fill="none" stroke="#141414" stroke-width="2.3" stroke-linecap="round" stroke-linejoin="round"/>
<path d="M249.4,606.0 L252.3,612.0 L253.1,598.6 L259.0,610.7 L259.8,597.3 L265.7,609.4 L266.5,596.0 L269.4,602.0" fill="none" stroke="#141414" stroke-width="2.3" stroke-linecap="round" stroke-linejoin="round"/>
<path d="M269.4,602.0 L275.0,601.2 L340.0,601.0 L373.8,601.2" fill="none" stroke="#141414" stroke-width="2.3" stroke-linecap="round" stroke-linejoin="round"/>
<ellipse cx="398" cy="600.6" rx="24.4" ry="19.4" fill="none" stroke="#141414" stroke-width="2.3"/>
<path d="M385.0,602.5 L408.8,602.5" fill="none" stroke="#141414" stroke-width="2.3" stroke-linecap="round" stroke-linejoin="round"/>
<path d="M402.0,597.0 L408.8,602.5 L402.0,608.0" fill="none" stroke="#141414" stroke-width="2.3" stroke-linecap="round" stroke-linejoin="round"/>
<path d="M422.5,601.0 L455.0,600.0 L494.5,600.0" fill="none" stroke="#141414" stroke-width="2.3" stroke-linecap="round" stroke-linejoin="round"/>
<path d="M494.5,585.0 L497.5,615.0" fill="none" stroke="#141414" stroke-width="2.4" stroke-linecap="round" stroke-linejoin="round"/>
<path d="M503.8,590.0 L503.8,608.0" fill="none" stroke="#141414" stroke-width="2.4" stroke-linecap="round" stroke-linejoin="round"/>
<path d="M504.0,600.0 L541.2,600.0" fill="none" stroke="#141414" stroke-width="2.3" stroke-linecap="round" stroke-linejoin="round"/>
<path d="M541.2,600.0 L541.0,677.5" fill="none" stroke="#141414" stroke-width="2.3" stroke-linecap="round" stroke-linejoin="round"/>
<path d="M541.0,677.5 L547.0,679.1 L535.0,682.4 L547.0,685.6 L535.0,688.9 L547.0,692.1 L541.0,693.8" fill="none" stroke="#141414" stroke-width="2.3" stroke-linecap="round" stroke-linejoin="round"/>
<path d="M541.0,693.8 L543.8,765.0" fill="none" stroke="#141414" stroke-width="2.3" stroke-linecap="round" stroke-linejoin="round"/>
<path d="M537.5,725.0 L543.0,735.0 L550.0,725.0" fill="none" stroke="#141414" stroke-width="2.3" stroke-linecap="round" stroke-linejoin="round"/>
<path d="M207.5,768.8 L263.8,767.0" fill="none" stroke="#141414" stroke-width="2.3" stroke-linecap="round" stroke-linejoin="round"/>
<path d="M263.8,767.0 L265.6,772.9 L268.1,760.8 L271.9,772.6 L274.4,760.4 L278.1,772.2 L280.6,760.1 L282.5,766.0" fill="none" stroke="#141414" stroke-width="2.3" stroke-linecap="round" stroke-linejoin="round"/>
<path d="M282.5,766.0 L346.0,764.0 L369.4,763.0" fill="none" stroke="#141414" stroke-width="2.3" stroke-linecap="round" stroke-linejoin="round"/>
<path d="M369.4,763.0 L371.9,769.8 L374.4,755.5 L379.4,769.1 L382.0,754.9 L387.0,768.5 L389.5,754.2 L392.0,761.0" fill="none" stroke="#141414" stroke-width="2.3" stroke-linecap="round" stroke-linejoin="round"/>
<path d="M392.0,761.0 L457.6,759.4 L480.0,760.0" fill="none" stroke="#141414" stroke-width="2.3" stroke-linecap="round" stroke-linejoin="round"/>
<path d="M480.0,760.0 L482.0,765.4 L485.1,754.3 L489.1,765.1 L492.1,753.9 L496.2,764.7 L499.2,753.6 L501.2,759.0" fill="none" stroke="#141414" stroke-width="2.3" stroke-linecap="round" stroke-linejoin="round"/>
<path d="M501.2,759.0 L543.8,757.5" fill="none" stroke="#141414" stroke-width="2.3" stroke-linecap="round" stroke-linejoin="round"/>
<path d="M416.0,754.0 L429.4,761.0 L416.0,768.0" fill="none" stroke="#141414" stroke-width="2.3" stroke-linecap="round" stroke-linejoin="round"/>
<path d="M203.8,606.2 L204.0,642.5" fill="none" stroke="#141414" stroke-width="2.3" stroke-linecap="round" stroke-linejoin="round"/>
<path d="M204.0,642.5 L210.0,644.5 L198.0,648.5 L210.0,652.5 L198.0,656.5 L210.0,660.5 L204.0,662.5" fill="none" stroke="#141414" stroke-width="2.3" stroke-linecap="round" stroke-linejoin="round"/>
<path d="M204.0,662.5 L205.0,692.5" fill="none" stroke="#141414" stroke-width="2.3" stroke-linecap="round" stroke-linejoin="round"/>
<path d="M205.0,692.5 L228.8,721.2 L208.8,753.8 L185.0,720.0 L205.0,692.5" fill="none" stroke="#141414" stroke-width="2.3" stroke-linecap="round" stroke-linejoin="round"/>
<g fill="none" stroke="#141414" stroke-width="2.5" stroke-linecap="round" stroke-linejoin="round"><path transform="translate(199.00,709.00) scale(1.1250,0.9000)" d="M0,5 L8,5 M4,1 L4,9" vector-effect="non-scaling-stroke" /></g>
<g fill="none" stroke="#141414" stroke-width="2.5" stroke-linecap="round" stroke-linejoin="round"><path transform="translate(204.00,726.00) scale(1.3333,0.8000)" d="M0,5 L6,5" vector-effect="non-scaling-stroke" /></g>
<path d="M208.8,753.8 L207.5,768.8" fill="none" stroke="#141414" stroke-width="2.3" stroke-linecap="round" stroke-linejoin="round"/>
<path d="M340.0,601.0 L340.0,627.5" fill="none" stroke="#141414" stroke-width="2.3" stroke-linecap="round" stroke-linejoin="round"/>
<path d="M340.0,627.5 L345.0,628.9 L335.0,631.6 L345.0,634.4 L335.0,637.1 L345.0,639.9 L340.0,641.2" fill="none" stroke="#141414" stroke-width="2.3" stroke-linecap="round" stroke-linejoin="round"/>
<path d="M340.0,641.2 L341.2,660.0 L346.0,764.0" fill="none" stroke="#141414" stroke-width="2.3" stroke-linecap="round" stroke-linejoin="round"/>
<path d="M346.0,764.0 L384.0,707.0" fill="none" stroke="#141414" stroke-width="2.3" stroke-linecap="round" stroke-linejoin="round"/>
<path d="M384.0,707.0 L390.4,708.2 L383.2,697.4 L396.0,699.8 L388.8,689.0 L401.6,691.4 L398.0,686.0" fill="none" stroke="#141414" stroke-width="2.3" stroke-linecap="round" stroke-linejoin="round"/>
<path d="M398.0,686.0 L455.0,601.0" fill="none" stroke="#141414" stroke-width="2.3" stroke-linecap="round" stroke-linejoin="round"/>
<path d="M455.0,600.0 L455.5,633.8" fill="none" stroke="#141414" stroke-width="2.3" stroke-linecap="round" stroke-linejoin="round"/>
<path d="M455.5,633.8 L461.5,635.6 L449.5,639.4 L461.5,643.1 L449.5,646.9 L461.5,650.6 L455.5,652.5" fill="none" stroke="#141414" stroke-width="2.3" stroke-linecap="round" stroke-linejoin="round"/>
<path d="M455.5,652.5 L457.5,760.0" fill="none" stroke="#141414" stroke-width="2.3" stroke-linecap="round" stroke-linejoin="round"/>
<g fill="none" stroke="#141414" stroke-width="2.5" stroke-linecap="round" stroke-linejoin="round"><path transform="translate(247.50,574.00) scale(1.5957,1.0000)" d="M4.8,0 Q0.8,2 0.5,6.5 Q0.5,10 3,10 Q5.6,10 5.4,7.5 Q5,5 1,6.2" vector-effect="non-scaling-stroke" /><path transform="translate(259.47,574.00) scale(1.5957,1.0000)" d="M0,7.4 L2.8,7.2 Q2.6,3 3.4,1.2 Q6.5,-0.2 9.4,0.6 Q9.8,4 9.1,7.3 L16,7.6" vector-effect="non-scaling-stroke" /></g>
<g fill="none" stroke="#141414" stroke-width="2.5" stroke-linecap="round" stroke-linejoin="round"><path transform="translate(225.00,648.75) scale(1.4894,1.0000)" d="M5.8,0.3 L1.2,0.3 L0.6,4.6 Q4,3.4 5.6,6 Q6.2,9.6 3,10 Q1,10 0,8.8" vector-effect="non-scaling-stroke" /><path transform="translate(236.17,648.75) scale(1.4894,1.0000)" d="M0,7.4 L2.8,7.2 Q2.6,3 3.4,1.2 Q6.5,-0.2 9.4,0.6 Q9.8,4 9.1,7.3 L16,7.6" vector-effect="non-scaling-stroke" /></g>
<g fill="none" stroke="#141414" stroke-width="2.5" stroke-linecap="round" stroke-linejoin="round"><path transform="translate(350.00,636.00) scale(1.1735,0.8000)" d="M0.5,2.5 Q1.5,-0.3 4,0.3 Q6.3,1.2 4.5,4.2 L0.3,9.8 L6.8,9.5" vector-effect="non-scaling-stroke" /><path transform="translate(359.97,636.00) scale(1.1735,0.8000)" d="M0,7.4 L2.8,7.2 Q2.6,3 3.4,1.2 Q6.5,-0.2 9.4,0.6 Q9.8,4 9.1,7.3 L16,7.6" vector-effect="non-scaling-stroke" /></g>
<g fill="none" stroke="#141414" stroke-width="2.5" stroke-linecap="round" stroke-linejoin="round"><path transform="translate(390.00,565.00) scale(1.7500,1.0000)" d="M0.5,1 Q3.5,-0.8 5.3,1.3 Q5.8,3.8 2.3,4.8 Q6.3,5.3 5.8,8 Q4.5,10.6 0.5,9.2" vector-effect="non-scaling-stroke" /><path transform="translate(404.00,565.00) scale(1.7500,1.0000)" d="M0,10 L3,0 L5.5,10 M1,6.5 L7,6" vector-effect="non-scaling-stroke" /></g>
<g fill="none" stroke="#141414" stroke-width="2.5" stroke-linecap="round" stroke-linejoin="round"><path transform="translate(510.00,573.75) scale(1.5789,1.0000)" d="M1,0.5 L1.5,10" vector-effect="non-scaling-stroke" /><path transform="translate(517.11,573.75) scale(1.5789,1.0000)" d="M0.5,2.5 Q1.5,-0.3 4,0.3 Q6.3,1.2 4.5,4.2 L0.3,9.8 L6.8,9.5" vector-effect="non-scaling-stroke" /><path transform="translate(530.53,573.75) scale(1.5789,1.0000)" d="M0,0 L3,10 L6,0" vector-effect="non-scaling-stroke" /></g>
<g fill="none" stroke="#141414" stroke-width="2.5" stroke-linecap="round" stroke-linejoin="round"><path transform="translate(470.00,641.25) scale(1.3000,0.8750)" d="M1,0.5 L1.5,10" vector-effect="non-scaling-stroke" /><path transform="translate(475.85,641.25) scale(1.3000,0.8750)" d="M1,0.5 L1.5,10" vector-effect="non-scaling-stroke" /><path transform="translate(481.70,641.25) scale(1.3000,0.8750)" d="M0,7.4 L2.8,7.2 Q2.6,3 3.4,1.2 Q6.5,-0.2 9.4,0.6 Q9.8,4 9.1,7.3 L16,7.6" vector-effect="non-scaling-stroke" /></g>
<g fill="none" stroke="#141414" stroke-width="2.5" stroke-linecap="round" stroke-linejoin="round"><path transform="translate(560.00,682.50) scale(1.4286,0.8750)" d="M0.5,2.5 Q1.5,-0.3 4,0.3 Q6.3,1.2 4.5,4.2 L0.3,9.8 L6.8,9.5" vector-effect="non-scaling-stroke" /><path transform="translate(572.14,682.50) scale(1.4286,0.8750)" d="M0,7.4 L2.8,7.2 Q2.6,3 3.4,1.2 Q6.5,-0.2 9.4,0.6 Q9.8,4 9.1,7.3 L16,7.6" vector-effect="non-scaling-stroke" /></g>
<g fill="none" stroke="#141414" stroke-width="2.5" stroke-linecap="round" stroke-linejoin="round"><path transform="translate(558.00,720.00) scale(2.4000,1.7500)" d="M1.2,3.8 L1.4,10 M1,0.2 L1.1,1" vector-effect="non-scaling-stroke" /></g>
<g fill="none" stroke="#141414" stroke-width="2.5" stroke-linecap="round" stroke-linejoin="round"><path transform="translate(236.25,715.00) scale(1.7045,1.2500)" d="M4.2,0 L0,6.8 L6.8,6.5 M4.6,2.5 L4.9,10" vector-effect="non-scaling-stroke" /><path transform="translate(250.74,715.00) scale(1.7045,1.2500)" d="M1.2,3.8 L1.4,10 M1,0.2 L1.1,1" vector-effect="non-scaling-stroke" /></g>
<g fill="none" stroke="#141414" stroke-width="2.5" stroke-linecap="round" stroke-linejoin="round"><path transform="translate(263.75,786.25) scale(1.3415,1.0000)" d="M1,0.5 L1.5,10" vector-effect="non-scaling-stroke" /><path transform="translate(269.79,786.25) scale(1.3415,1.0000)" d="M0,7.4 L2.8,7.2 Q2.6,3 3.4,1.2 Q6.5,-0.2 9.4,0.6 Q9.8,4 9.1,7.3 L16,7.6" vector-effect="non-scaling-stroke" /></g>
<g fill="none" stroke="#141414" stroke-width="2.5" stroke-linecap="round" stroke-linejoin="round"><path transform="translate(406.00,702.00) scale(1.2714,1.0500)" d="M1,0.5 L1.5,10" vector-effect="non-scaling-stroke" /><path transform="translate(411.72,702.00) scale(1.2714,1.0500)" d="M3,0 C-0.5,0 -0.5,10 3,10 C6.5,10 6.5,0 3,0 Z" vector-effect="non-scaling-stroke" /><path transform="translate(421.26,702.00) scale(1.2714,1.0500)" d="M0,7.4 L2.8,7.2 Q2.6,3 3.4,1.2 Q6.5,-0.2 9.4,0.6 Q9.8,4 9.1,7.3 L16,7.6" vector-effect="non-scaling-stroke" /></g>
<g fill="none" stroke="#141414" stroke-width="2.5" stroke-linecap="round" stroke-linejoin="round"><path transform="translate(372.00,780.00) scale(1.4694,1.1000)" d="M4.2,0 L0,6.8 L6.8,6.5 M4.6,2.5 L4.9,10" vector-effect="non-scaling-stroke" /><path transform="translate(384.49,780.00) scale(1.4694,1.1000)" d="M0,7.4 L2.8,7.2 Q2.6,3 3.4,1.2 Q6.5,-0.2 9.4,0.6 Q9.8,4 9.1,7.3 L16,7.6" vector-effect="non-scaling-stroke" /></g>
<g fill="none" stroke="#141414" stroke-width="2.5" stroke-linecap="round" stroke-linejoin="round"><path transform="translate(420.00,774.40) scale(2.4286,0.8600)" d="M0.5,0 L6.5,0 M3.5,0 L3.5,10 M0,10 L7,10" vector-effect="non-scaling-stroke" /></g>
<g fill="none" stroke="#141414" stroke-width="2.5" stroke-linecap="round" stroke-linejoin="round"><path transform="translate(485.00,776.25) scale(1.5625,1.1250)" d="M0.5,1 Q3.5,-0.8 5.3,1.3 Q5.8,3.8 2.3,4.8 Q6.3,5.3 5.8,8 Q4.5,10.6 0.5,9.2" vector-effect="non-scaling-stroke" /><path transform="translate(497.50,776.25) scale(1.5625,1.1250)" d="M0,7.4 L2.8,7.2 Q2.6,3 3.4,1.2 Q6.5,-0.2 9.4,0.6 Q9.8,4 9.1,7.3 L16,7.6" vector-effect="non-scaling-stroke" /></g>
<circle cx="346" cy="764" r="2" fill="#141414"/>
<circle cx="455" cy="600.5" r="2" fill="#141414"/>
<circle cx="441" cy="400" r="2" fill="#141414"/>
<circle cx="343.75" cy="400" r="2" fill="#141414"/>
<circle cx="346" cy="494" r="2" fill="#141414"/>
<circle cx="322" cy="452.5" r="2" fill="#141414"/>
<circle cx="532.5" cy="163.5" r="2" fill="#141414"/>
<circle cx="447.5" cy="163.5" r="2" fill="#141414"/>
<circle cx="290.5" cy="165.5" r="2" fill="#141414"/>
<circle cx="205" cy="692.5" r="2" fill="#141414"/>
<circle cx="208.75" cy="753.75" r="2" fill="#141414"/>
<path d="M775.5,405.5 Q785,395 795.5,409.5 Q785,401.5 775.5,405.5 Z" fill="#141414" stroke="#141414" stroke-width="0.8"/>
<path d="M790.5,745.5 Q795,740 801,741 L801,744.5 Q795,743.5 790.5,745.5 Z" fill="#141414" stroke="#141414" stroke-width="0.8"/>
<circle cx="75" cy="571" r="0.9" fill="#555"/>
<circle cx="79" cy="574" r="0.9" fill="#555"/>
<circle cx="22.5" cy="406" r="0.8" fill="#555"/>
</svg></body></html>
